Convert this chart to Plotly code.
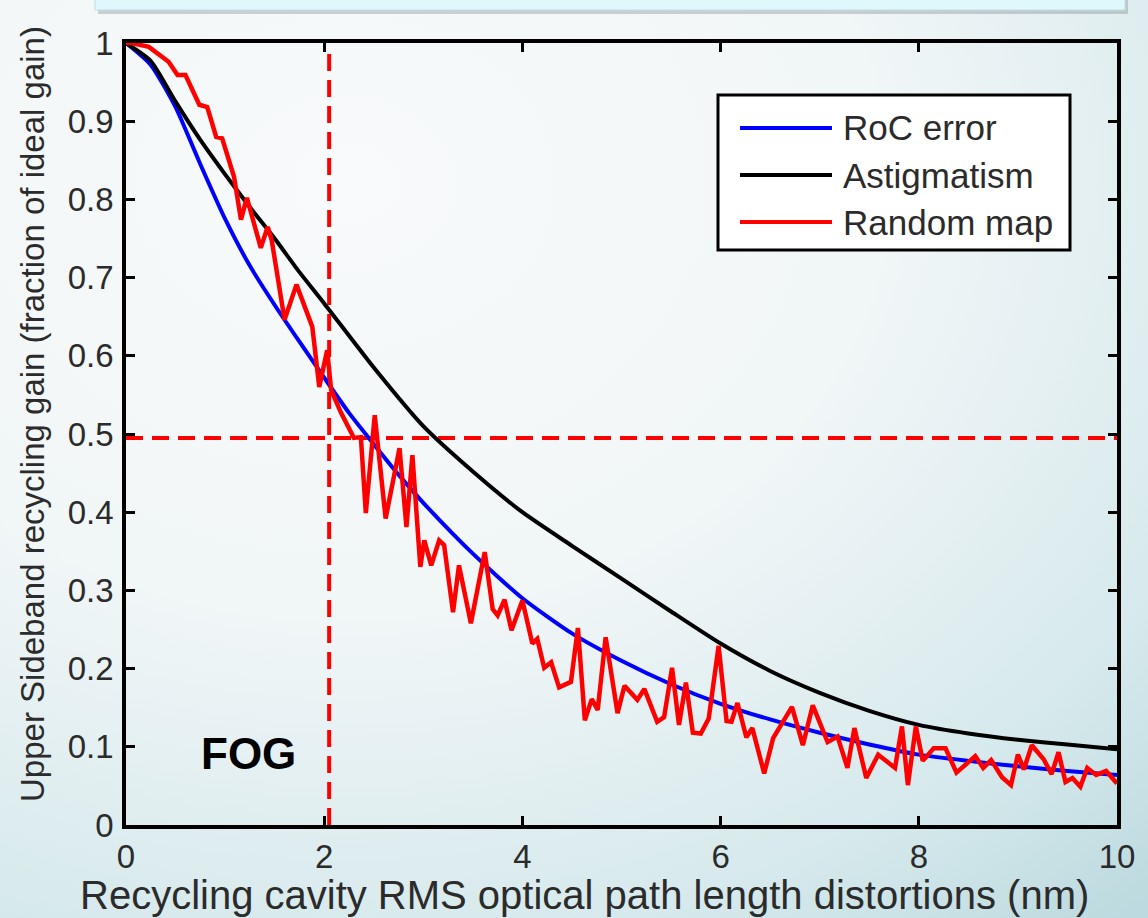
import base64
import plotly.graph_objects as go

W, H = 1148, 918

# ---------------- data ----------------
roc_x = [0, 0.25, 0.5, 0.75, 1.0, 1.25, 1.5, 1.75, 2.0, 2.25, 2.5, 2.75, 3.0, 3.5, 4.0,
         4.5, 5.0, 5.5, 6.0, 6.5, 7.0, 7.5, 8.0, 8.5, 9.0, 9.5, 10.0]
roc_y = [1.0, 0.972, 0.918, 0.845, 0.775, 0.715, 0.665, 0.618, 0.572, 0.527, 0.487, 0.448,
         0.412, 0.347, 0.29, 0.245, 0.21, 0.18, 0.155, 0.135, 0.118, 0.103, 0.09, 0.082,
         0.075, 0.069, 0.064]

astig_x = [0, 0.25, 0.5, 0.75, 1.0, 1.25, 1.5, 1.75, 2.0, 2.5, 3.0, 3.5, 4.0, 4.5, 5.0,
           5.5, 6.0, 6.5, 7.0, 7.5, 8.0, 8.5, 9.0, 9.5, 10.0]
astig_y = [1.0, 0.977, 0.925, 0.876, 0.832, 0.79, 0.75, 0.707, 0.667, 0.585, 0.51, 0.452,
           0.40, 0.357, 0.315, 0.273, 0.232, 0.197, 0.169, 0.146, 0.128, 0.117, 0.109,
           0.103, 0.097]

rand_x = [0.0, 0.06, 0.23, 0.43, 0.52, 0.60, 0.74, 0.82, 0.91, 0.97, 1.09, 1.16, 1.22,
          1.36, 1.43, 1.47, 1.60, 1.72, 1.88, 1.95, 2.03, 2.07, 2.17, 2.30, 2.37, 2.42,
          2.51, 2.62, 2.76, 2.83, 2.89, 2.97, 3.01, 3.08, 3.16, 3.21, 3.30, 3.36, 3.48,
          3.62, 3.70, 3.75, 3.82, 3.89, 4.00, 4.10, 4.15, 4.22, 4.29, 4.37, 4.49, 4.56,
          4.63, 4.70, 4.76, 4.84, 4.96, 5.03, 5.16, 5.23, 5.36, 5.43, 5.51, 5.58, 5.65,
          5.72, 5.80, 5.88, 5.98, 6.06, 6.11, 6.17, 6.26, 6.32, 6.44, 6.53, 6.72, 6.83,
          6.93, 7.08, 7.18, 7.28, 7.35, 7.47, 7.59, 7.76, 7.83, 7.89, 7.97, 8.04, 8.15,
          8.27, 8.38, 8.57, 8.65, 8.73, 8.84, 8.93, 9.00, 9.06, 9.14, 9.26, 9.34, 9.41,
          9.48, 9.55, 9.63, 9.70, 9.79, 9.89, 10.0]
rand_y = [1.0, 1.0, 0.995, 0.976, 0.959, 0.959, 0.921, 0.918, 0.880, 0.878, 0.829, 0.774,
          0.802, 0.738, 0.765, 0.748, 0.646, 0.691, 0.637, 0.560, 0.607, 0.556, 0.527,
          0.495, 0.496, 0.399, 0.524, 0.392, 0.482, 0.381, 0.473, 0.330, 0.364, 0.332,
          0.364, 0.358, 0.272, 0.332, 0.258, 0.349, 0.276, 0.268, 0.288, 0.249, 0.287,
          0.232, 0.238, 0.201, 0.208, 0.176, 0.183, 0.252, 0.134, 0.161, 0.147, 0.240,
          0.143, 0.178, 0.160, 0.174, 0.132, 0.138, 0.201, 0.128, 0.182, 0.118, 0.117,
          0.136, 0.229, 0.133, 0.132, 0.156, 0.112, 0.124, 0.066, 0.111, 0.151, 0.102,
          0.153, 0.106, 0.113, 0.073, 0.124, 0.060, 0.090, 0.073, 0.126, 0.051, 0.126,
          0.082, 0.098, 0.098, 0.067, 0.088, 0.073, 0.083, 0.061, 0.051, 0.090, 0.071,
          0.102, 0.084, 0.065, 0.093, 0.055, 0.060, 0.049, 0.073, 0.064, 0.069, 0.053]

fog_x_value = 2.05       # vertical dashed marker
half_gain_value = 0.495  # horizontal dashed marker

series_names = ["RoC error", "Astigmatism", "Random map"]
series_colors = ["#0000ff", "#000000", "#ff0000"]

x_ticks = [0, 2, 4, 6, 8, 10]
y_ticks = [0, 0.1, 0.2, 0.3, 0.4, 0.5, 0.6, 0.7, 0.8, 0.9, 1.0]
y_ticktext = ["0", "0.1", "0.2", "0.3", "0.4", "0.5", "0.6", "0.7", "0.8", "0.9", "1"]

# ---------------- helpers ----------------
def px(p):
    return p / W

def py(p):
    return 1 - p / H

FONT = "Liberation Sans, Arial, sans-serif"
TXT = "#2b2b2b"

fig = go.Figure()

fig.add_trace(go.Scatter(x=[fog_x_value, fog_x_value], y=[0, 0.99], mode="lines",
                         line=dict(color="#ff0000", width=4, dash="17px,9px"),
                         showlegend=False, hoverinfo="skip"))
fig.add_trace(go.Scatter(x=[0, 10], y=[half_gain_value, half_gain_value], mode="lines",
                         line=dict(color="#ff0000", width=4, dash="17px,9px"),
                         showlegend=False, hoverinfo="skip"))

fig.add_trace(go.Scatter(x=roc_x, y=roc_y, mode="lines", name=series_names[0],
                         line=dict(color=series_colors[0], width=4, shape="spline", smoothing=0.6),
                         showlegend=False))
fig.add_trace(go.Scatter(x=astig_x, y=astig_y, mode="lines", name=series_names[1],
                         line=dict(color=series_colors[1], width=4, shape="spline", smoothing=0.6),
                         showlegend=False))
fig.add_trace(go.Scatter(x=rand_x, y=rand_y, mode="lines", name=series_names[2],
                         line=dict(color=series_colors[2], width=4.5),
                         showlegend=False))

# ---------------- background gradient ----------------
svg = (
    "<svg xmlns='http://www.w3.org/2000/svg' width='1148' height='918'>"
    "<defs><radialGradient id='g' cx='0.3' cy='0.2' r='1.05'>"
    "<stop offset='0' stop-color='#f8fafb'/>"
    "<stop offset='0.45' stop-color='#f1f6f7'/>"
    "<stop offset='0.8' stop-color='#d6e9ec'/>"
    "<stop offset='1' stop-color='#bcdadf'/>"
    "</radialGradient></defs>"
    "<rect width='1148' height='918' fill='url(#g)'/></svg>"
)
src = "data:image/svg+xml;base64," + base64.b64encode(svg.encode()).decode()

shapes = []
# top pale box with shadow
shapes.append(dict(type="rect", xref="paper", yref="paper", x0=px(98), x1=px(1128),
                   y0=py(14), y1=py(-5), fillcolor="rgba(120,130,135,0.35)", line=dict(width=0),
                   layer="below"))
shapes.append(dict(type="rect", xref="paper", yref="paper", x0=px(95), x1=px(1125),
                   y0=py(10), y1=py(-5), fillcolor="#dff8fb", line=dict(color="#c3dde2", width=1),
                   layer="below"))
# legend box
shapes.append(dict(type="rect", xref="paper", yref="paper", x0=px(718), x1=px(1070),
                   y0=py(250), y1=py(95), fillcolor="white", line=dict(color="black", width=3)))
annotations = []
leg_y = [128, 175, 222]
for name, col, yy in zip(series_names, series_colors, leg_y):
    shapes.append(dict(type="line", xref="paper", yref="paper", x0=px(740), x1=px(832),
                       y0=py(yy), y1=py(yy), line=dict(color=col, width=4)))
    annotations.append(dict(text=name, xref="paper", yref="paper", x=px(841), y=py(yy),
                            xanchor="left", yanchor="middle", showarrow=False,
                            font=dict(family=FONT, size=35, color=TXT)))

annotations.append(dict(text="FOG", xref="x", yref="y", x=1.24, y=0.092, showarrow=False,
                        xanchor="center", yanchor="middle",
                        font=dict(family=FONT, size=44, color="black", weight="bold")))
annotations.append(dict(text="Recycling cavity RMS optical path length distortions (nm)",
                        xref="paper", yref="paper", x=px(584), y=py(895), showarrow=False,
                        xanchor="center", yanchor="middle",
                        font=dict(family=FONT, size=40, color=TXT)))
annotations.append(dict(text="Upper Sideband recycling gain (fraction of ideal gain)",
                        xref="paper", yref="paper", x=px(33), y=py(414), showarrow=False,
                        textangle=-90, xanchor="center", yanchor="middle",
                        font=dict(family=FONT, size=33, color=TXT)))

axis_common = dict(showline=True, linewidth=3.5, linecolor="black", mirror="allticks",
                   ticks="inside", ticklen=9, tickwidth=3, tickcolor="black",
                   showgrid=False, zeroline=False, automargin=False,
                   tickfont=dict(family=FONT, size=33, color=TXT))

fig.update_layout(
    width=W, height=H,
    margin=dict(l=0, r=0, t=0, b=0),
    paper_bgcolor="#eef5f6",
    plot_bgcolor="rgba(0,0,0,0)",
    showlegend=False,
    xaxis=dict(range=[0, 10], domain=[px(126), px(1117)], tickvals=x_ticks,
               ticklabelstandoff=0, **axis_common),
    yaxis=dict(range=[0, 1], domain=[py(825), py(43)], tickvals=y_ticks,
               ticktext=y_ticktext, ticklabelstandoff=2, **axis_common),
    images=[dict(source=src, xref="paper", yref="paper", x=0, y=1, sizex=1, sizey=1,
                 xanchor="left", yanchor="top", sizing="stretch", layer="below")],
    shapes=shapes,
    annotations=annotations,
)

fig.write_html("out.html")
